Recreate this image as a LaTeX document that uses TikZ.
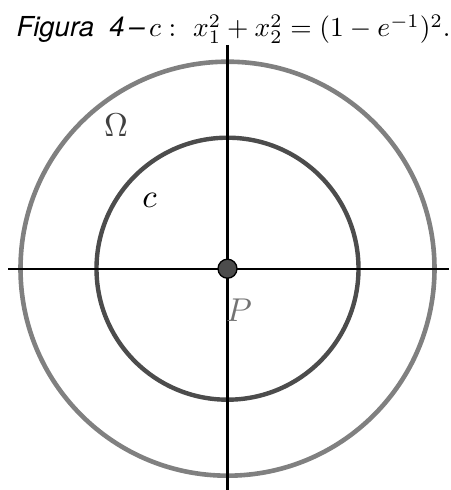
\documentclass[tikz,border=0pt]{standalone}
\usepackage{fontspec}
\newfontfamily\heros{TeX Gyre Heros}
\begin{document}
\begin{tikzpicture}[x=1pt,y=1pt,
  outer/.style={draw=black!50, line width=4.6pt},
  inner/.style={draw=black!70, line width=4.4pt},
  axis/.style={draw=black, line width=2.2pt},
  lab/.style={scale=3.3, inner sep=0pt}]
\useasboundingbox (0,0) rectangle (450,490);
\coordinate (O) at (227.5,221.3);
\coordinate (xl) at (8,221.3);
\coordinate (xr) at (449,221.3);
\coordinate (yt) at (227.5,445);
\coordinate (yb) at (227.5,0);
\draw[outer] (O) circle (207);
\draw[inner] (O) circle (131);
\draw[axis] (xl) -- (xr);
\draw[axis] (yt) -- (yb);
\node[circle, draw=black, line width=1.3pt, fill=black!70, minimum size=19pt, inner sep=0pt] (P) at (O) {};
\node[lab, text=black!75] (Om) at (116,365) {$\Omega$};
\node[lab] (cl) at (149.5,289.5) {$c$};
\node[lab, text=black!55] (Pl) at (239,180) {$P$};
\node[anchor=base, scale=2.75, inner sep=0pt] (title) at (233.5,453) {{\heros\itshape Figura\ \ 4\,–\,}$c:\ x_1^2+x_2^2=(1-e^{-1})^2.$};
\end{tikzpicture}
\end{document}
